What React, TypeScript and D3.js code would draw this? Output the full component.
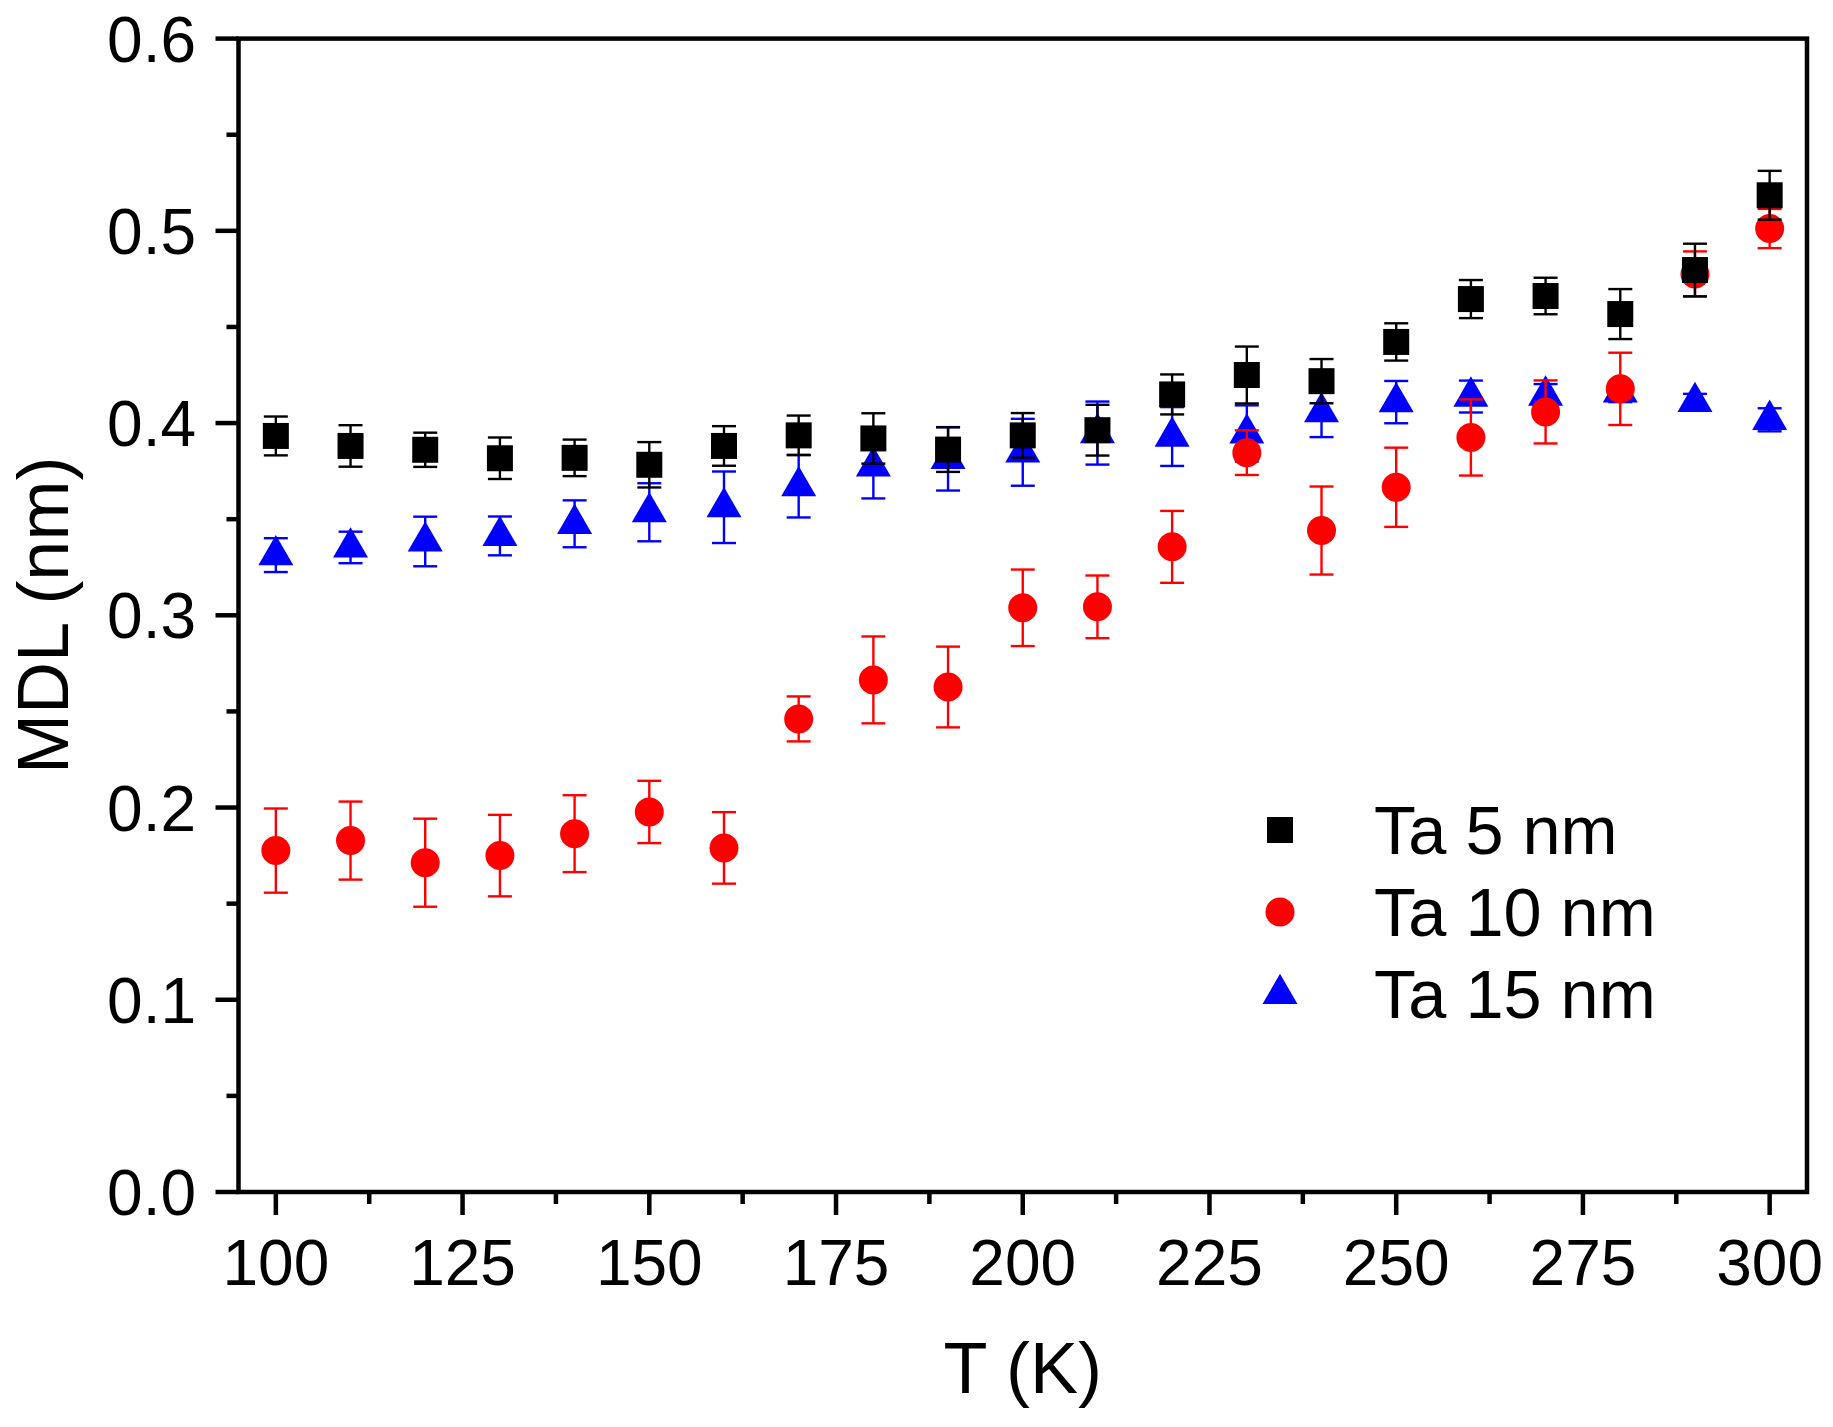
import * as d3 from "d3";

const temps = [100, 110, 120, 130, 140, 150, 160, 170, 180, 190, 200, 210, 220, 230, 240, 250, 260, 270, 280, 290, 300];

const ta5 = [0.3933, 0.3881, 0.3861, 0.3817, 0.3819, 0.3783, 0.3881, 0.3936, 0.392, 0.3862, 0.3936, 0.3963, 0.4149, 0.425, 0.4218, 0.4422, 0.4645, 0.4661, 0.4567, 0.4796, 0.5185];
const ta5Err = [0.0101, 0.0108, 0.0089, 0.0108, 0.0095, 0.0118, 0.0103, 0.0103, 0.0131, 0.0116, 0.0116, 0.0132, 0.0104, 0.0148, 0.0115, 0.0097, 0.0099, 0.0095, 0.013, 0.0137, 0.0127];

const ta10 = [0.1776, 0.1828, 0.1713, 0.175, 0.1864, 0.1977, 0.179, 0.2461, 0.2664, 0.2627, 0.3039, 0.3044, 0.3356, 0.3846, 0.3441, 0.3666, 0.3925, 0.4058, 0.4178, 0.4776, 0.5012];
const ta10Err = [0.0219, 0.0203, 0.0229, 0.0212, 0.02, 0.0162, 0.0186, 0.0117, 0.0226, 0.021, 0.0199, 0.0163, 0.0187, 0.0116, 0.0229, 0.0206, 0.0198, 0.0164, 0.0188, 0.0117, 0.0102];

const ta15 = [0.3313, 0.3353, 0.3384, 0.3413, 0.3476, 0.3536, 0.3562, 0.3672, 0.3774, 0.3814, 0.3848, 0.3948, 0.393, 0.3946, 0.4057, 0.4109, 0.4138, 0.4143, 0.4159, 0.411, 0.4017];
const ta15Err = [0.0088, 0.0082, 0.0129, 0.0101, 0.0122, 0.0151, 0.0186, 0.0163, 0.0166, 0.0165, 0.0174, 0.0164, 0.0153, 0.0146, 0.013, 0.011, 0.0083, 0.006, 0.005, 0.0042, 0.006];

const xMajorTicks = [100, 125, 150, 175, 200, 225, 250, 275, 300];
const xMinorTicks = [112.5, 137.5, 162.5, 187.5, 212.5, 237.5, 262.5, 287.5];
const yMajorTicks = [0, 0.1, 0.2, 0.3, 0.4, 0.5, 0.6];
const yMinorTicks = [0.05, 0.15, 0.25, 0.35, 0.45, 0.55];

const seriesNames = ["Ta 5 nm", "Ta 10 nm", "Ta 15 nm"];

const W = 1833;
const H = 1427;
const FONT = "'Liberation Sans', Arial, Helvetica, sans-serif";

const symbolFor = {
  square: d3.symbol().type(d3.symbolSquare).size(26 * 26)(),
  circle: d3.symbol().type(d3.symbolCircle).size(Math.PI * 14.5 * 14.5)(),
  triangle: d3.symbol().type(d3.symbolTriangle).size((Math.sqrt(3) / 4) * 35 * 35)(),
};

export default function App() {
  const x = d3.scaleLinear().domain([95, 305]).range([238.5, 1807]);
  const y = d3.scaleLinear().domain([0, 0.6]).range([1192, 38.6]);
  const [x0, x1] = x.range();
  const [y0, y1] = y.range();

  // drawn bottom to top: blue, red, black
  const series = [
    { name: seriesNames[2], values: ta15, errs: ta15Err, color: "#0000ff", shape: "triangle" },
    { name: seriesNames[1], values: ta10, errs: ta10Err, color: "#ff0000", shape: "circle" },
    { name: seriesNames[0], values: ta5, errs: ta5Err, color: "#000000", shape: "square" },
  ];
  const legend = [series[2], series[1], series[0]];

  const cap = 12;

  return (
    <svg
      width={W}
      height={H}
      style={{ position: "absolute", left: 0, top: 0, background: "#fff" }}
      fontFamily={FONT}
    >
      <rect x={0} y={0} width={W} height={H} fill="#fff" />

      {series.map((s) => (
        <g key={s.name}>
          {temps.map((t, i) => {
            const cx = x(t);
            const top = y(s.values[i] + s.errs[i]);
            const bot = y(s.values[i] - s.errs[i]);
            return (
              <g key={t} stroke={s.color} strokeWidth={2.4}>
                <line x1={cx} x2={cx} y1={top} y2={bot} />
                <line x1={cx - cap} x2={cx + cap} y1={top} y2={top} />
                <line x1={cx - cap} x2={cx + cap} y1={bot} y2={bot} />
              </g>
            );
          })}
          {temps.map((t, i) => (
            <path
              key={"m" + t}
              d={symbolFor[s.shape as keyof typeof symbolFor]!}
              transform={`translate(${x(t)},${y(s.values[i])})`}
              fill={s.color}
            />
          ))}
        </g>
      ))}

      {/* frame */}
      <rect
        x={x0}
        y={y1}
        width={x1 - x0}
        height={y0 - y1}
        fill="none"
        stroke="#000"
        strokeWidth={4.5}
      />

      {/* x ticks */}
      {xMajorTicks.map((t) => (
        <g key={"xt" + t}>
          <line x1={x(t)} x2={x(t)} y1={y0} y2={y0 + 23} stroke="#000" strokeWidth={4.5} />
          <text x={x(t)} y={1285} fontSize={64} textAnchor="middle" fill="#000">
            {t}
          </text>
        </g>
      ))}
      {xMinorTicks.map((t) => (
        <line key={"xm" + t} x1={x(t)} x2={x(t)} y1={y0} y2={y0 + 12} stroke="#000" strokeWidth={4.5} />
      ))}

      {/* y ticks */}
      {yMajorTicks.map((t) => (
        <g key={"yt" + t}>
          <line x1={x0 - 23} x2={x0} y1={y(t)} y2={y(t)} stroke="#000" strokeWidth={4.5} />
          <text x={196} y={y(t)} dy="0.36em" fontSize={64} textAnchor="end" fill="#000">
            {t.toFixed(1)}
          </text>
        </g>
      ))}
      {yMinorTicks.map((t) => (
        <line key={"ym" + t} x1={x0 - 12} x2={x0} y1={y(t)} y2={y(t)} stroke="#000" strokeWidth={4.5} />
      ))}

      {/* axis titles */}
      <text x={(x0 + x1) / 2} y={1393} fontSize={72} textAnchor="middle" fill="#000">
        T (K)
      </text>
      <text
        transform={`translate(68,${(y0 + y1) / 2}) rotate(-90)`}
        fontSize={72}
        textAnchor="middle"
        fill="#000"
      >
        MDL (nm)
      </text>

      {/* legend */}
      {legend.map((s, i) => (
        <g key={"lg" + s.name} transform={`translate(1280,${830 + i * 82})`}>
          <path d={symbolFor[s.shape as keyof typeof symbolFor]!} fill={s.color} />
          <text x={94} y={24} fontSize={68.5} fill="#000">
            {s.name}
          </text>
        </g>
      ))}
    </svg>
  );
}
